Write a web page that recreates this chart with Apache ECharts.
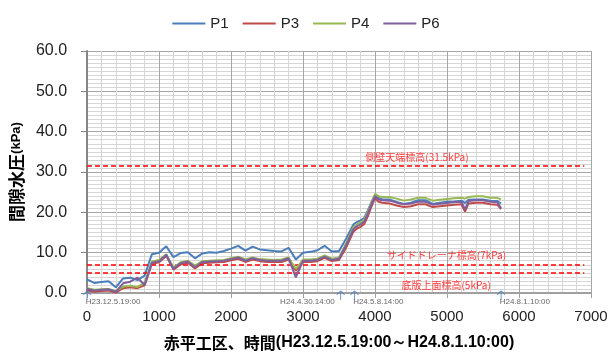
<!DOCTYPE html>
<html>
<head>
<meta charset="utf-8">
<script src="https://cdn.jsdelivr.net/npm/echarts@6/dist/echarts.min.js"></script>
<style>
  html, body { margin: 0; padding: 0; background: #fff; }
  #chart { width: 612px; height: 356px; }
</style>
</head>
<body>
<div id="chart"></div>
<script>
// Elapsed hours since H23.12.5 19:00
const hours = [0,100,200,300,400,500,600,700,800,900,1000,1100,1200,1300,1400,1500,1600,1700,1800,1900,
  2000,2100,2200,2300,2400,2500,2600,2700,2800,2900,3000,3100,3200,3300,3400,3500,3600,3700,
  3750,3800,3850,3900,3950,4000,4050,4100,
  4200,4300,4400,4500,4600,4700,4800,4900,5000,5100,5200,5250,5300,5400,5500,5600,5700,5750];

// Pore water pressure (kPa) per gauge
const P1 = [3.4,2.5,2.7,2.9,1.4,3.6,3.8,3.2,4.3,9.6,10.0,11.6,8.9,9.9,10.1,8.6,9.8,10.1,10.0,10.4,
  11.0,11.7,10.5,11.5,10.8,10.6,10.4,10.3,11.2,8.3,10.0,10.2,10.6,11.7,10.3,10.4,13.5,17.0,
  17.6,18.0,18.6,20.5,22.5,24.2,23.6,23.2,
  23.2,22.6,22.1,22.4,23.0,23.0,22.1,22.4,22.6,22.7,22.9,22.3,23.1,23.2,23.2,22.9,22.8,22.2];
const P3 = [0.6,0.3,0.5,0.6,0.1,1.2,1.4,1.2,1.9,7.2,7.6,9.2,5.8,7.1,7.5,6.1,7.4,7.5,7.6,7.7,
  8.1,8.5,7.7,8.3,7.9,7.7,7.7,7.7,8.3,5.5,7.7,7.7,7.9,8.7,7.9,8.2,11.3,15.2,
  16.0,16.4,17.1,19.0,21.4,23.5,22.6,22.4,
  22.2,21.7,21.3,21.5,22.0,22.0,21.3,21.5,21.7,21.9,22.0,20.2,22.2,22.4,22.4,22.0,21.9,20.8];
const P4 = [1.2,0.8,0.9,1.0,0.5,1.6,1.8,1.5,2.5,7.8,8.2,9.6,6.3,7.6,8.0,6.8,7.9,8.0,8.1,8.2,
  8.6,9.0,8.3,8.8,8.4,8.3,8.2,8.3,8.8,6.0,8.3,8.3,8.5,9.3,8.5,8.8,12.4,16.3,
  17.0,17.5,18.2,20.2,22.4,24.6,24.0,23.8,
  23.8,23.4,22.9,23.2,23.6,23.6,22.9,23.1,23.3,23.5,23.6,23.4,23.8,24.0,24.0,23.6,23.6,23.2];
const P6 = [1.0,0.6,0.8,0.9,0.3,2.4,2.8,3.8,2.0,7.5,7.9,9.5,6.0,7.4,7.8,6.4,7.7,7.8,7.9,8.0,
  8.4,8.8,8.0,8.6,8.2,8.0,8.0,8.0,8.6,3.9,8.0,8.0,8.2,9.0,8.2,8.5,11.9,15.8,
  16.6,17.0,17.7,19.7,22.0,24.0,23.2,23.0,
  22.9,22.4,22.0,22.2,22.6,22.6,21.9,22.1,22.3,22.5,22.6,20.8,22.8,23.0,23.0,22.6,22.5,21.0];

const seriesNames = ['P1', 'P3', 'P4', 'P6'];
const seriesValues = [P1, P3, P4, P6];
const seriesColors = ['#4a7ebb', '#be4b48', '#98b954', '#7d60a0'];

// Reference levels (kPa) and their captions
const levelValues = [31.5, 7, 5];
const levelLabels = ['側壁天端標高(31.5kPa)', 'サイドドレーナ標高(7kPa)', '底版上面標高(5kPa)'];
const levelLabelAt = [[4582, 33.6], [4992, 9.4], [4988, 1.9]];
const levelEnd = 6907;

// Dated reference points on the time axis
const markHours = [0, 3523, 3715, 5751];
const markTexts = ['H23.12.5.19:00', 'H24.4.30.14:00', 'H24.5.8.14:00', 'H24.8.1.10:00'];
const markAlign = ['left', 'right', 'left', 'left'];

const xTicks = { min: 0, max: 7000, interval: 1000 };
const yTicks = { min: 0, max: 60, interval: 10 };

const latin = 'Liberation Sans';
const cjk = '"Noto Sans CJK JP"';

const lineSeries = seriesNames.map((name, i) => ({
  name: name,
  type: 'line',
  data: hours.map((h, k) => [h, seriesValues[i][k]]),
  showSymbol: false,
  symbol: 'none',
  lineStyle: { width: 2, color: seriesColors[i] },
  itemStyle: { color: seriesColors[i] },
  z: 3 + i
}));

const notes = {
  name: 'levels',
  type: 'scatter',
  data: [],
  silent: true,
  z: 10,
  markLine: {
    silent: true,
    symbol: ['none', 'none'],
    label: { show: false },
    lineStyle: { color: '#ff0000', type: [5, 3], width: 1.5 },
    data: levelValues.map(v => [{ coord: [0, v] }, { coord: [levelEnd, v] }])
  },
  markPoint: {
    silent: true,
    symbol: 'circle',
    symbolSize: 0,
    label: {
      show: true,
      position: 'inside',
      color: '#ff3b3b',
      fontSize: 10,
      fontFamily: cjk + ', ' + latin
    },
    data: levelLabels.map((t, i) => ({ coord: levelLabelAt[i], value: t, label: { formatter: t } }))
  }
};

const dateMarks = {
  name: 'dates',
  type: 'scatter',
  clip: false,
  silent: true,
  z: 12,
  symbol: 'path://M4,0 L0,4 M4,0 L8,4 M4,0 L4,9',
  symbolSize: [8, 9],
  itemStyle: { color: 'none', borderColor: '#4a7ebb', borderWidth: 1 },
  data: markHours.map((h, i) => ({
    value: [h, -0.6],
    label: {
      show: true,
      formatter: markTexts[i],
      position: markAlign[i] === 'right' ? [0.5, 14] : [5, 14],
      align: markAlign[i],
      verticalAlign: 'middle',
      fontSize: 8,
      fontFamily: latin,
      color: '#404040'
    }
  }))
};

const chart = echarts.init(document.getElementById('chart'), null, { renderer: 'canvas' });
chart.setOption({
  animation: false,
  backgroundColor: '#ffffff',
  legend: {
    data: seriesNames,
    top: 11,
    left: 'center',
    icon: 'rect',
    itemWidth: 33,
    itemHeight: 2,
    itemGap: 14,
    textStyle: { fontFamily: latin, fontSize: 15, color: '#222' }
  },
  grid: { left: 87, right: 21, top: 51, bottom: 63, containLabel: false },
  xAxis: {
    type: 'value',
    min: xTicks.min, max: xTicks.max, interval: xTicks.interval,
    name: '{a|赤平工区、時間}{b|(H23.12.5.19:00～H24.8.1.10:00)}',
    nameLocation: 'middle',
    nameGap: 42,
    nameTextStyle: {
      rich: {
        a: { fontFamily: cjk, fontWeight: 'bold', fontSize: 16, color: '#000' },
        b: { fontFamily: latin, fontWeight: 'bold', fontSize: 16, color: '#000' }
      }
    },
    axisLine: { show: true, lineStyle: { color: '#a0a0a0', width: 2 } },
    axisTick: { show: true, inside: false, length: 5, lineStyle: { color: '#a0a0a0' } },
    axisLabel: {
      margin: 16, fontFamily: latin, fontSize: 15, color: '#222',
      formatter: v => String(v)
    },
    splitLine: { show: true, lineStyle: { color: '#a6a6a6', width: 1 } },
    minorTick: { show: false, splitNumber: 5 },
    minorSplitLine: { show: true, lineStyle: { color: '#d6d6d6', width: 1 } }
  },
  yAxis: {
    type: 'value',
    min: yTicks.min, max: yTicks.max, interval: yTicks.interval,
    name: '{a|間隙水圧}{b|(kPa)}',
    nameLocation: 'middle',
    nameRotate: 90,
    nameGap: 60,
    nameTextStyle: {
      rich: {
        a: { fontFamily: cjk, fontWeight: 'bold', fontSize: 17, color: '#000' },
        b: { fontFamily: latin, fontWeight: 'bold', fontSize: 13, color: '#000' }
      }
    },
    axisLine: { show: true, lineStyle: { color: '#868686', width: 2 } },
    axisTick: { show: true, inside: false, length: 6, lineStyle: { color: '#868686' } },
    axisLabel: {
      margin: 20, fontFamily: latin, fontSize: 16, color: '#222',
      formatter: v => v.toFixed(1)
    },
    splitLine: { show: true, lineStyle: { color: '#a6a6a6', width: 1 } },
    minorTick: { show: false, splitNumber: 10 },
    minorSplitLine: { show: true, lineStyle: { color: '#d6d6d6', width: 1 } }
  },
  series: lineSeries.concat([notes, dateMarks])
});
</script>
</body>
</html>
